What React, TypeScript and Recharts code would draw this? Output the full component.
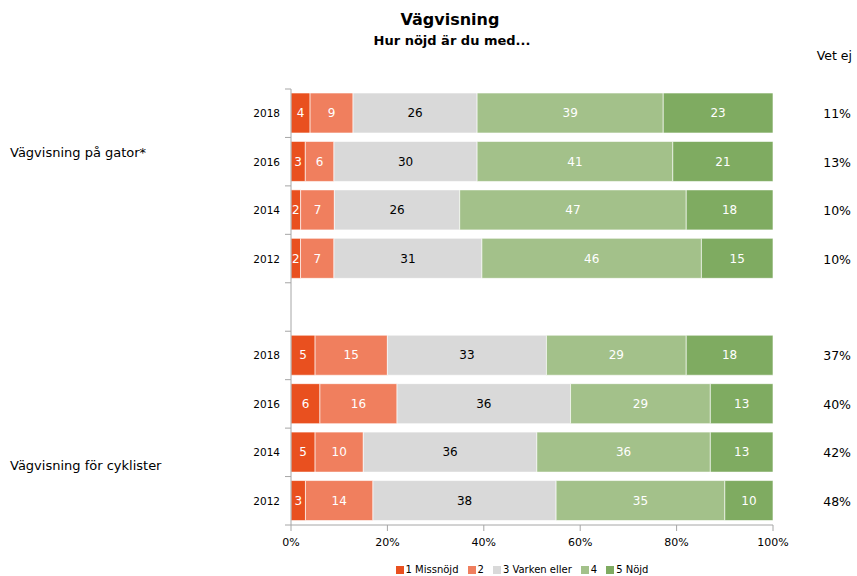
import React from "react";
import { BarChart, Bar, XAxis, YAxis, LabelList } from "recharts";

const categories = ["g2018", "g2016", "g2014", "g2012", "gap", "c2018", "c2016", "c2014", "c2012"];
const yearLabels = ["2018", "2016", "2014", "2012", "", "2018", "2016", "2014", "2012"];
const s1 = [4, 3, 2, 2, null, 5, 6, 5, 3];
const s2 = [9, 6, 7, 7, null, 15, 16, 10, 14];
const s3 = [26, 30, 26, 31, null, 33, 36, 36, 38];
const s4 = [39, 41, 47, 46, null, 29, 29, 36, 35];
const s5 = [23, 21, 18, 15, null, 18, 13, 13, 10];
const vetEj = ["11%", "13%", "10%", "10%", "", "37%", "40%", "42%", "48%"];
const seriesNames = ["1 Missnöjd", "2", "3 Varken eller", "4", "5 Nöjd"];
const groupLabels = ["Vägvisning på gator*", "Vägvisning för cyklister"];
const xTicks = [0, 0.2, 0.4, 0.6, 0.8, 1];

const colors = ["#E9501F", "#F07F5E", "#D9D9D9", "#A3C18A", "#7FAB61"];
const labelColors = ["#ffffff", "#ffffff", "#000000", "#ffffff", "#ffffff"];
const keys = ["v1", "v2", "v3", "v4", "v5"];

const data = categories.map((c, i) => ({
  cat: c,
  v1: s1[i],
  v2: s2[i],
  v3: s3[i],
  v4: s4[i],
  v5: s5[i],
}));

const FONT = "'DejaVu Sans', Verdana, sans-serif";
const AXIS = "#A6A6A6";

const LeftTick = (props: any) => {
  const { x, y, payload } = props;
  const idx = payload.index;
  const half = payload.offset || 0;
  const axisX = x + 6;
  return (
    <g>
      <line x1={axisX - 6} x2={axisX} y1={y - half} y2={y - half} stroke={AXIS} />
      {idx === categories.length - 1 && (
        <line x1={axisX - 6} x2={axisX} y1={y + half} y2={y + half} stroke={AXIS} />
      )}
      <text x={x - 5} y={y} dy={4} textAnchor="end" fontSize={10.5} fill="#000" fontFamily={FONT}>
        {yearLabels[idx]}
      </text>
    </g>
  );
};

const RightTick = (props: any) => {
  const { y, payload } = props;
  const idx = payload.index;
  return (
    <text x={851} y={y} dy={5} textAnchor="end" fontSize={12.5} fill="#000" fontFamily={FONT}>
      {vetEj[idx]}
    </text>
  );
};

export default function App() {
  return (
    <div style={{ position: "absolute", left: 0, top: 0, width: 857, height: 576, background: "#fff", fontFamily: FONT }}>
      <div style={{ position: "absolute", left: 0, width: 900, top: 10, textAlign: "center", fontWeight: "bold", fontSize: 16, color: "#000" }}>
        Vägvisning
      </div>
      <div style={{ position: "absolute", left: 0, width: 904, top: 33, textAlign: "center", fontWeight: "bold", fontSize: 13, color: "#000" }}>
        Hur nöjd är du med...
      </div>
      <div style={{ position: "absolute", right: 5, top: 48, fontSize: 12.5, color: "#000" }}>Vet ej</div>
      <div style={{ position: "absolute", left: 10, top: 145, fontSize: 13, color: "#000" }}>{groupLabels[0]}</div>
      <div style={{ position: "absolute", left: 10, top: 458, fontSize: 13, color: "#000" }}>{groupLabels[1]}</div>
      <BarChart
        width={857}
        height={576}
        data={data}
        layout="vertical"
        stackOffset="expand"
        barSize={40}
        margin={{ top: 89, right: 0, bottom: 21, left: 0 }}
      >
        <XAxis
          type="number"
          domain={[0, 1]}
          ticks={xTicks}
          tickFormatter={(v: number) => `${Math.round(v * 100)}%`}
          height={30}
          stroke={AXIS}
          tickMargin={7}
          tick={{ fontSize: 11, fill: "#000", fontFamily: FONT }}
        />
        <YAxis
          yAxisId="left"
          type="category"
          dataKey="cat"
          width={291}
          stroke={AXIS}
          tickLine={false}
          tickSize={6}
          tickMargin={0}
          tick={<LeftTick />}
        />
        <YAxis
          yAxisId="right"
          orientation="right"
          type="category"
          dataKey="cat"
          width={84}
          axisLine={false}
          tickLine={false}
          tick={<RightTick />}
        />
        {keys.map((k, i) => (
          <Bar
            key={k}
            dataKey={k}
            name={seriesNames[i]}
            stackId="a"
            yAxisId="left"
            fill={colors[i]}
            stroke="#ffffff"
            strokeWidth={0.6}
            isAnimationActive={false}
          >
            <LabelList
              dataKey={k}
              position="center"
              fill={labelColors[i]}
              fontSize={12}
              fontFamily={FONT}
            />
          </Bar>
        ))}
      </BarChart>
      <div
        style={{
          position: "absolute",
          left: 0,
          width: 1044,
          top: 564,
          display: "flex",
          justifyContent: "center",
          fontSize: 10,
          color: "#000",
          whiteSpace: "nowrap",
        }}
      >
        {seriesNames.map((n, i) => (
          <span key={n} style={{ display: "inline-flex", alignItems: "center", marginLeft: i === 0 ? 0 : 9 }}>
            <span style={{ display: "inline-block", width: 8, height: 8, background: colors[i], marginRight: 2 }} />
            {n}
          </span>
        ))}
      </div>
    </div>
  );
}
